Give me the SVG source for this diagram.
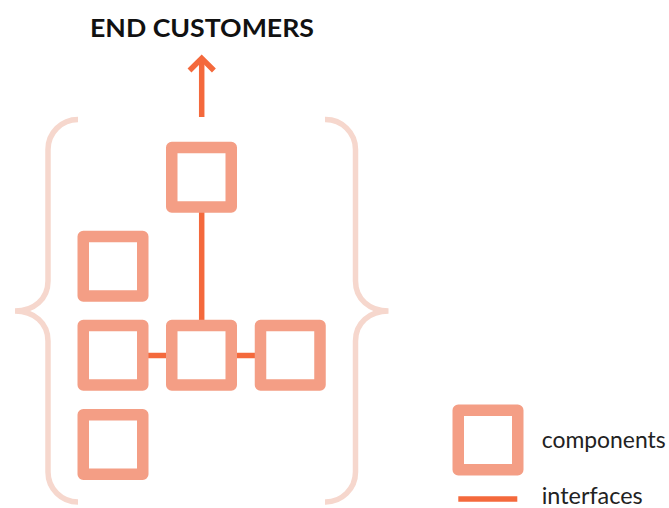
<svg xmlns="http://www.w3.org/2000/svg" width="669" height="508" viewBox="0 0 669 508">
  <style>
    .comp { fill: none; stroke: #f49e85; stroke-width: 11.5; stroke-linejoin: round; }
    .link { fill: none; stroke: #f4693c; stroke-width: 5.5; }
    .brace { fill: none; stroke: #f6d7cd; stroke-width: 5.5; stroke-linecap: butt; }
    .title { font-family: Lato, "Liberation Sans", sans-serif; font-weight: bold; font-size: 25px; fill: #111; }
    .label { font-family: Lato, "Liberation Sans", sans-serif; font-size: 22.5px; fill: #222; }
  </style>

  <text class="title" x="90" y="37" textLength="224" lengthAdjust="spacingAndGlyphs">END CUSTOMERS</text>

  <!-- braces around the system -->
  <path class="brace" d="M78,119.5 A30,30 0 0 0 48,149.5 L48,281 C48,299 34,311 15,311 C34,311 48,323 48,341 L48,472 A30,30 0 0 0 78,502"/>
  <path class="brace" d="M325,119.5 A30,30 0 0 1 355.5,149.5 L355.5,281 C355.5,299 369.5,311 388.5,311 C369.5,311 355.5,323 355.5,341 L355.5,472 A30,30 0 0 1 325,502"/>

  <!-- interfaces -->
  <g id="connectors">
    <line class="link" x1="201.7" y1="117" x2="201.7" y2="59"/>
    <polyline class="link" points="189.5,70.5 201.7,58.3 213.9,70.5" stroke-linejoin="miter"/>
    <line class="link" x1="201.7" y1="206" x2="201.7" y2="326"/>
    <line class="link" x1="142" y1="355.5" x2="172" y2="355.5"/>
    <line class="link" x1="231" y1="355.5" x2="261" y2="355.5"/>
  </g>

  <!-- components -->
  <g id="top"><rect class="comp" x="171.75" y="147.5" width="59.5" height="59.5"/></g>
  <g id="left-1"><rect class="comp" x="83.25" y="236.5" width="59.5" height="59.5"/></g>
  <g id="left-2"><rect class="comp" x="83.25" y="325.5" width="59.5" height="59.5"/></g>
  <g id="center"><rect class="comp" x="171.75" y="325.5" width="59.5" height="59.5"/></g>
  <g id="right"><rect class="comp" x="260.5" y="325.5" width="59.5" height="59.5"/></g>
  <g id="left-3"><rect class="comp" x="83.25" y="414.75" width="59.5" height="59.5"/></g>

  <!-- legend -->
  <g id="legend">
    <rect class="comp" x="458.25" y="410.25" width="59.5" height="59.5"/>
    <text class="label" x="541.7" y="448.3" textLength="124" lengthAdjust="spacingAndGlyphs">components</text>
    <line class="link" x1="458.3" y1="499" x2="517.3" y2="499" stroke-width="6"/>
    <text class="label" x="541.7" y="504" textLength="101" lengthAdjust="spacingAndGlyphs">interfaces</text>
  </g>
</svg>
